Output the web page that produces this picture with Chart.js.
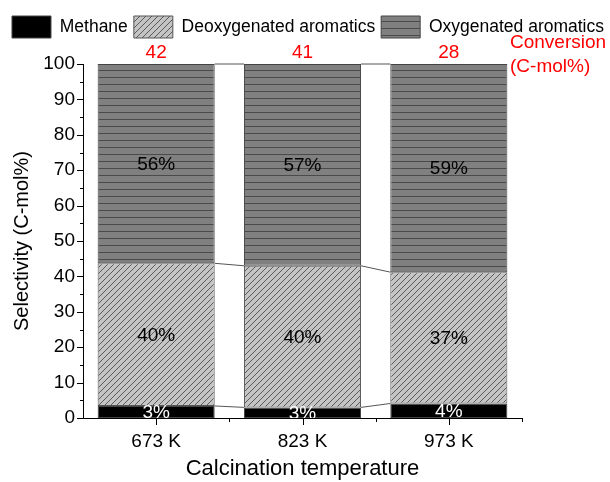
<!DOCTYPE html>
<html>
<head>
<meta charset="utf-8">
<script src="https://cdn.jsdelivr.net/npm/chart.js@4"></script>
<style>
  body { margin: 0; background: #fff; }
  #wrap { width: 610px; height: 482px; }
</style>
</head>
<body>
<div id="wrap"><canvas id="myChart" width="610" height="482"></canvas></div>
<script>
// data
const categories = ['673 K', '823 K', '973 K'];
const methane = [3.4, 3.0, 4.1];
const deoxygenated = [40.3, 40.0, 37.1];
const oxygenated = [56.3, 57.0, 58.8];
const conversion = [42, 41, 28];
const yTicks = [0, 10, 20, 30, 40, 50, 60, 70, 80, 90, 100];

Chart.defaults.font.family = '"Liberation Sans", Arial, sans-serif';
Chart.defaults.color = '#000';

/* patterns */
let hatch = () => {
  const c = document.createElement('canvas');
  c.width = 6; c.height = 6;
  const g = c.getContext('2d');
  g.fillStyle = '#c4c4c4';
  g.fillRect(0, 0, 6, 6);
  g.strokeStyle = '#5a5a5a';
  g.lineWidth = 1;
  g.beginPath();
  g.moveTo(0, 6); g.lineTo(6, 0);
  g.moveTo(-1, 1); g.lineTo(1, -1);
  g.moveTo(5, 7); g.lineTo(7, 5);
  g.stroke();
  return g.createPattern(c, 'repeat');
};
let stripes = () => {
  const c = document.createElement('canvas');
  c.width = 4; c.height = 7;
  const g = c.getContext('2d');
  g.fillStyle = '#808080';
  g.fillRect(0, 0, 4, 7);
  g.fillStyle = '#4a4a4a';
  g.fillRect(0, 0, 4, 1);
  return g.createPattern(c, 'repeat');
};

const extras = {
  id: 'extras',
  afterDatasetsDraw(chart) {
    const { ctx, chartArea, scales: { y } } = chart;
    const base = chart.getDatasetMeta(0).data;
    const sets = chart.data.datasets;

    /* lines linking the bar segments */
    ctx.save();
    ctx.strokeStyle = '#555';
    ctx.lineWidth = 1;
    for (let i = 0; i < categories.length - 1; i++) {
      let c0 = 0, c1 = 0;
      sets.forEach(ds => {
        c0 += ds.data[i]; c1 += ds.data[i + 1];
        const a = base[i], b = base[i + 1];
        ctx.beginPath();
        ctx.moveTo(a.x + a.width / 2, y.getPixelForValue(c0));
        ctx.lineTo(b.x - b.width / 2, y.getPixelForValue(c1));
        ctx.stroke();
      });
    }
    ctx.restore();

    /* percentage labels */
    ctx.save();
    ctx.beginPath();
    ctx.rect(chartArea.left, chartArea.top, chartArea.width, chartArea.height);
    ctx.clip();
    ctx.font = '19px "Liberation Sans", Arial, sans-serif';
    ctx.textAlign = 'center';
    ctx.textBaseline = 'middle';
    sets.forEach((ds, di) => {
      chart.getDatasetMeta(di).data.forEach((el, i) => {
        ctx.fillStyle = di === 0 ? '#fff' : '#000';
        ctx.fillText(Math.round(ds.data[i]) + '%', el.x, (el.y + el.base) / 2 + 1);
      });
    });
    ctx.restore();
  },
  afterDraw(chart) {
    const { ctx, chartArea, scales: { x, y } } = chart;
    ctx.save();
    ctx.strokeStyle = '#000';
    ctx.lineWidth = 1;
    ctx.beginPath();
    for (let v = 0; v <= 100; v += 5) {
      const py = Math.round(y.getPixelForValue(v)) + 0.5;
      ctx.moveTo(chartArea.left - (v % 10 === 0 ? 6 : 3), py);
      ctx.lineTo(chartArea.left, py);
    }
    categories.forEach((c, i) => {
      const px = Math.round(x.getPixelForValue(i)) + 0.5;
      ctx.moveTo(px, chartArea.bottom);
      ctx.lineTo(px, chartArea.bottom + 7);
      const pb = Math.round(x.getPixelForValue(i + 0.5)) + 0.5;
      ctx.moveTo(pb, chartArea.bottom);
      ctx.lineTo(pb, chartArea.bottom + 4);
    });
    ctx.stroke();

    /* conversion, red */
    ctx.fillStyle = '#ff0000';
    ctx.font = '19px "Liberation Sans", Arial, sans-serif';
    ctx.textAlign = 'center';
    ctx.textBaseline = 'middle';
    conversion.forEach((v, i) => ctx.fillText(String(v), x.getPixelForValue(i), chartArea.top - 11));
    ctx.textAlign = 'left';
    ctx.fillText('Conversion', chartArea.right - 12, chartArea.top - 21);
    ctx.fillText('(C-mol%)', chartArea.right - 12, chartArea.top + 3);
    ctx.restore();
  }
};

// empty axes only used to keep room right and above the plot
const spacer = (size, horiz) => ({
  type: 'linear',
  display: true,
  position: horiz ? 'top' : 'right',
  grid: { display: false, drawTicks: false },
  border: { display: false },
  ticks: { display: false },
  afterFit: (s) => { if (horiz) s.height = size; else s.width = size; }
});

const ctx = document.getElementById('myChart');
const config = {
  type: 'bar',
  data: {
    labels: categories,
    datasets: [
      { label: 'Methane', data: methane, backgroundColor: '#000', borderColor: '#444', borderWidth: 1 },
      { label: 'Deoxygenated aromatics', data: deoxygenated, backgroundColor: hatch(), borderColor: '#555', borderWidth: 1 },
      { label: 'Oxygenated aromatics', data: oxygenated, backgroundColor: stripes(), borderColor: '#444', borderWidth: 1 }
    ]
  },
  options: {
    responsive: false,
    animation: false,
    layout: { padding: { top: 10, right: 0, left: 0, bottom: 0 } },
    datasets: { bar: { categoryPercentage: 1, barPercentage: 0.8, borderSkipped: false } },
    plugins: {
      tooltip: { enabled: false },
      legend: {
        position: 'top',
        align: 'end',
        labels: {
          boxWidth: 39, boxHeight: 22, padding: 6,
          font: { size: 17.5 }
        }
      }
    },
    scales: {
      x: {
        stacked: true,
        grid: { display: false },
        border: { display: true, color: '#000', width: 1 },
        ticks: { padding: 4, font: { size: 19 } },
        title: { display: true, text: 'Calcination temperature', font: { size: 22 }, padding: 0 },
        afterFit: (s) => { s.height = 64; }
      },
      y: {
        stacked: true,
        min: 0, max: 100,
        afterBuildTicks: (s) => { s.ticks = yTicks.map(v => ({ value: v })); },
        grid: { display: false },
        border: { display: true, color: '#000', width: 1 },
        ticks: { padding: 0, font: { size: 19 } },
        title: { display: true, text: 'Selectivity (C-mol%)', font: { size: 20, lineHeight: 1 }, padding: { top: 12, bottom: 0 } },
        afterFit: (s) => { s.width = 83; }
      },
      padRight: spacer(88, false),
      padTop: spacer(16, true)
    }
  },
  plugins: [extras]
};
const chart = new Chart(ctx, config);
</script>
</body>
</html>
